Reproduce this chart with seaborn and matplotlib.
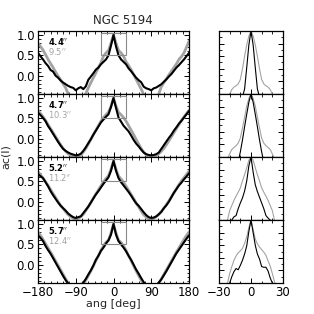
import numpy as np
import pandas as pd
import matplotlib
matplotlib.use("Agg")
import matplotlib.pyplot as plt
import seaborn as sns
from matplotlib.patches import Rectangle
from matplotlib.ticker import MultipleLocator

# angle grid of the left panels (deg) and of the zoomed right panels
ang = np.arange(-180, 181, 6)
ang_zoom = np.arange(-30, 31, 2)

# labels of the four rows: black / gray scale
labels_black = ["4.4", "4.7", "5.2", "5.7"]
labels_gray = ["9.5", "10.3", "11.2", "12.4"]

# --- left panels: ac(l) ----------------------------------------------------
ac_black_1 = [0.56, 0.48, 0.40, 0.31, 0.24, 0.14, 0.10, 0.00, -0.05, -0.12, -0.17, -0.21,
              -0.25, -0.28, -0.30, -0.36, -0.31, -0.28, -0.33, -0.26, -0.10, -0.02, 0.06,
              0.15, 0.20, 0.28, 0.34, 0.40, 0.50, 0.74, 1.00, 0.72, 0.50, 0.40, 0.34, 0.28,
              0.18, 0.11, 0.03, -0.05, -0.11, -0.16, -0.27, -0.31, -0.33, -0.36, -0.31,
              -0.29, -0.25, -0.21, -0.15, -0.09, -0.02, 0.04, 0.12, 0.20, 0.26, 0.33, 0.40,
              0.48, 0.56]
ac_gray_1 = [0.80, 0.72, 0.63, 0.52, 0.40, 0.30, 0.20, 0.09, -0.01, -0.10, -0.20, -0.30,
             -0.45, -0.55, -0.60, -0.62, -0.60, -0.57, -0.52, -0.44, -0.30, -0.17, -0.05,
             0.07, 0.20, 0.32, 0.48, 0.56, 0.62, 0.80, 1.00, 0.80, 0.62, 0.56, 0.48, 0.34,
             0.25, 0.15, 0.03, -0.09, -0.21, -0.33, -0.46, -0.56, -0.60, -0.62, -0.60,
             -0.55, -0.45, -0.27, -0.17, -0.08, 0.02, 0.11, 0.20, 0.29, 0.40, 0.47, 0.56,
             0.70, 0.85]
ac_black_2 = [0.64, 0.58, 0.51, 0.43, 0.31, 0.22, 0.12, 0.02, -0.08, -0.17, -0.25, -0.30,
              -0.34, -0.37, -0.39, -0.41, -0.40, -0.37, -0.30, -0.21, -0.11, -0.01, 0.10,
              0.20, 0.30, 0.40, 0.47, 0.54, 0.60, 0.78, 1.00, 0.76, 0.52, 0.42, 0.32, 0.25,
              0.18, 0.08, -0.03, -0.12, -0.19, -0.27, -0.34, -0.38, -0.40, -0.41, -0.40,
              -0.38, -0.34, -0.25, -0.16, -0.07, 0.02, 0.10, 0.20, 0.28, 0.37, 0.44, 0.52,
              0.60, 0.68]
ac_gray_2 = [0.70, 0.62, 0.54, 0.45, 0.35, 0.25, 0.15, 0.05, -0.05, -0.15, -0.24, -0.31,
             -0.37, -0.41, -0.44, -0.45, -0.44, -0.40, -0.33, -0.24, -0.13, -0.02, 0.10,
             0.21, 0.32, 0.43, 0.52, 0.59, 0.65, 0.80, 1.00, 0.80, 0.65, 0.59, 0.52, 0.43,
             0.32, 0.21, 0.10, -0.02, -0.13, -0.24, -0.33, -0.40, -0.44, -0.45, -0.44,
             -0.41, -0.37, -0.31, -0.24, -0.15, -0.05, 0.05, 0.15, 0.25, 0.35, 0.45, 0.54,
             0.62, 0.70]
ac_black_3 = [0.68, 0.63, 0.58, 0.48, 0.38, 0.26, 0.16, 0.07, -0.02, -0.10, -0.16, -0.22,
              -0.29, -0.34, -0.38, -0.40, -0.38, -0.36, -0.28, -0.20, -0.12, -0.02, 0.08,
              0.18, 0.26, 0.35, 0.44, 0.52, 0.60, 0.76, 1.00, 0.76, 0.58, 0.48, 0.40, 0.32,
              0.24, 0.15, 0.05, -0.04, -0.10, -0.18, -0.26, -0.33, -0.38, -0.40, -0.39,
              -0.36, -0.31, -0.25, -0.16, -0.09, 0.00, 0.11, 0.22, 0.31, 0.40, 0.47, 0.55,
              0.62, 0.70]
ac_gray_3 = [0.74, 0.66, 0.58, 0.49, 0.40, 0.30, 0.20, 0.10, 0.00, -0.09, -0.17, -0.25,
             -0.32, -0.37, -0.41, -0.43, -0.41, -0.37, -0.31, -0.22, -0.12, -0.02, 0.09,
             0.19, 0.29, 0.39, 0.49, 0.57, 0.64, 0.80, 1.00, 0.80, 0.63, 0.56, 0.48, 0.38,
             0.28, 0.18, 0.08, -0.03, -0.13, -0.23, -0.32, -0.38, -0.42, -0.43, -0.41,
             -0.37, -0.31, -0.24, -0.16, -0.07, 0.02, 0.12, 0.22, 0.32, 0.42, 0.51, 0.59,
             0.67, 0.75]
ac_black_4 = [0.72, 0.66, 0.58, 0.46, 0.36, 0.27, 0.16, 0.05, -0.06, -0.17, -0.28, -0.38,
              -0.46, -0.52, -0.55, -0.56, -0.54, -0.50, -0.44, -0.35, -0.24, -0.14, -0.02,
              0.12, 0.22, 0.34, 0.42, 0.52, 0.60, 0.74, 1.00, 0.74, 0.58, 0.50, 0.42, 0.33,
              0.22, 0.12, 0.00, -0.12, -0.22, -0.33, -0.43, -0.50, -0.54, -0.56, -0.55,
              -0.50, -0.44, -0.36, -0.26, -0.16, -0.05, 0.06, 0.17, 0.28, 0.37, 0.46, 0.55,
              0.64, 0.72]
ac_gray_4 = [0.80, 0.72, 0.62, 0.52, 0.41, 0.31, 0.20, 0.09, -0.02, -0.13, -0.24, -0.35,
             -0.46, -0.55, -0.60, -0.62, -0.60, -0.55, -0.48, -0.38, -0.27, -0.15, -0.03,
             0.10, 0.22, 0.35, 0.46, 0.55, 0.60, 0.78, 1.00, 0.78, 0.60, 0.55, 0.46, 0.35,
             0.22, 0.10, -0.03, -0.15, -0.27, -0.38, -0.48, -0.55, -0.60, -0.62, -0.60,
             -0.55, -0.46, -0.35, -0.24, -0.13, -0.02, 0.09, 0.20, 0.31, 0.41, 0.52, 0.62,
             0.72, 0.80]

# --- right panels: central peak, -30..30 deg ------------------------------
pk_black_1 = [-0.3, -0.3, -0.3, -0.3, -0.3, -0.3, -0.3, -0.3, -0.3, -0.3, -0.2, -0.05,
              0.08, 0.42, 0.78, 1.00, 0.78, 0.42, 0.08, -0.05, -0.2, -0.3, -0.3, -0.3,
              -0.3, -0.3, -0.3, -0.3, -0.3, -0.3, -0.3]
pk_gray_1 = [-0.30, -0.25, -0.20, -0.12, -0.06, 0.00, 0.07, 0.11, 0.13, 0.16, 0.23, 0.40,
             0.60, 0.78, 0.92, 1.00, 0.92, 0.78, 0.60, 0.40, 0.23, 0.16, 0.13, 0.11, 0.07,
             0.00, -0.06, -0.12, -0.20, -0.25, -0.30]
pk_black_2 = [-0.4, -0.4, -0.4, -0.4, -0.4, -0.4, -0.4, -0.4, -0.25, -0.08, 0.08, 0.27,
              0.48, 0.68, 0.87, 1.00, 0.87, 0.68, 0.48, 0.27, 0.08, -0.08, -0.25, -0.4,
              -0.4, -0.4, -0.4, -0.4, -0.4, -0.4, -0.4]
pk_gray_2 = [-0.30, -0.24, -0.17, -0.10, -0.03, 0.05, 0.12, 0.15, 0.18, 0.22, 0.30, 0.46,
             0.63, 0.81, 0.93, 1.00, 0.93, 0.81, 0.63, 0.46, 0.30, 0.22, 0.18, 0.15, 0.12,
             0.05, -0.03, -0.10, -0.17, -0.24, -0.30]
pk_black_3 = [-0.4, -0.4, -0.4, -0.3, -0.2, -0.1, 0.00, 0.05, 0.07, 0.18, 0.27, 0.35,
              0.46, 0.62, 0.86, 1.00, 0.76, 0.56, 0.45, 0.36, 0.27, 0.18, 0.07, 0.03,
              0.00, -0.10, -0.2, -0.3, -0.4, -0.4, -0.4]
pk_gray_3 = [-0.40, -0.30, -0.20, -0.08, 0.00, 0.15, 0.23, 0.31, 0.38, 0.44, 0.51, 0.62,
             0.72, 0.83, 0.95, 1.00, 0.95, 0.83, 0.72, 0.62, 0.51, 0.44, 0.38, 0.31, 0.23,
             0.15, 0.00, -0.08, -0.20, -0.30, -0.40]
pk_black_4 = [-0.4, -0.4, -0.4, -0.3, -0.15, 0.00, 0.10, 0.18, 0.23, 0.21, 0.28, 0.36,
              0.46, 0.59, 0.82, 1.00, 0.80, 0.60, 0.46, 0.38, 0.26, 0.25, 0.25, 0.19,
              0.08, 0.00, -0.15, -0.3, -0.4, -0.4, -0.4]
pk_gray_4 = [-0.40, -0.30, -0.20, -0.08, 0.00, 0.15, 0.26, 0.36, 0.43, 0.48, 0.51, 0.55,
             0.63, 0.73, 0.88, 1.00, 0.85, 0.70, 0.62, 0.57, 0.53, 0.49, 0.44, 0.35, 0.27,
             0.15, 0.02, -0.10, -0.20, -0.30, -0.40]

ac_black = [ac_black_1, ac_black_2, ac_black_3, ac_black_4]
ac_gray = [ac_gray_1, ac_gray_2, ac_gray_3, ac_gray_4]
pk_black = [pk_black_1, pk_black_2, pk_black_3, pk_black_4]
pk_gray = [pk_gray_1, pk_gray_2, pk_gray_3, pk_gray_4]

# zoom box drawn on the left panels
box_x = (-30, 30)
box_y = (0.5, 1.05)

GRAY = "#a3a3a3"
BOX = "#8a8a8a"

sns.set_style("ticks")
plt.rcParams["font.family"] = ["DejaVu Sans"]
plt.rcParams.update({
    "xtick.direction": "in", "ytick.direction": "in",
    "xtick.top": True, "ytick.right": True,
    "xtick.major.size": 3.5, "ytick.major.size": 3.5,
    "xtick.minor.size": 1.8, "ytick.minor.size": 1.8,
    "xtick.major.width": 0.7, "ytick.major.width": 0.7,
    "xtick.minor.width": 0.6, "ytick.minor.width": 0.6,
    "xtick.major.pad": 2.5, "ytick.major.pad": 2.0,
    "axes.linewidth": 0.9, "axes.edgecolor": "black",
    "xtick.color": "black", "ytick.color": "black",
})

W = 314.0
fig = plt.figure(figsize=(3.14, 3.14), dpi=100)

top_px = 31
h_px = 63
for i in range(4):
    y0 = 1 - (top_px + (i + 1) * h_px) / W
    axl = fig.add_axes([38 / W, y0, 151 / W, h_px / W])
    axr = fig.add_axes([219 / W, y0, 64 / W, h_px / W])

    df = pd.DataFrame({"ang": ang, "black": ac_black[i], "gray": ac_gray[i]})
    sns.lineplot(data=df, x="ang", y="gray", ax=axl, color=GRAY, lw=2.0)
    sns.lineplot(data=df, x="ang", y="black", ax=axl, color="black", lw=1.5)
    axl.add_patch(Rectangle((box_x[0], box_y[0]), box_x[1] - box_x[0], box_y[1] - box_y[0],
                            fill=False, ec=BOX, lw=0.8, zorder=5))
    axl.set_xlim(-180, 180)
    axl.set_ylim(-0.45, 1.1)
    axl.xaxis.set_major_locator(MultipleLocator(90))
    axl.xaxis.set_minor_locator(MultipleLocator(15))
    axl.yaxis.set_major_locator(MultipleLocator(0.5))
    axl.yaxis.set_minor_locator(MultipleLocator(0.1))
    axl.set_yticks([0.0, 0.5, 1.0])
    axl.set_yticklabels(["0.0", "0.5", "1.0"], fontsize=8.5)
    axl.set_xlabel("")
    axl.set_ylabel("")
    axl.text(0.065, 0.83, labels_black[i] + r"$^{\prime\prime}$", transform=axl.transAxes,
             fontsize=6, fontweight="bold", color="black", va="center")
    axl.text(0.065, 0.68, labels_gray[i] + r"$^{\prime\prime}$", transform=axl.transAxes,
             fontsize=6, color=GRAY, va="center")

    dz = pd.DataFrame({"ang": ang_zoom, "black": pk_black[i], "gray": pk_gray[i]})
    sns.lineplot(data=dz, x="ang", y="gray", ax=axr, color=GRAY, lw=0.8)
    sns.lineplot(data=dz, x="ang", y="black", ax=axr, color="black", lw=0.8)
    axr.set_xlim(-30, 30)
    axr.set_ylim(0, 1.0)
    axr.xaxis.set_major_locator(MultipleLocator(30))
    axr.xaxis.set_minor_locator(MultipleLocator(10))
    axr.yaxis.set_major_locator(MultipleLocator(0.2))
    axr.yaxis.set_minor_locator(MultipleLocator(0.1))
    axr.set_yticklabels([])
    axr.set_xlabel("")
    axr.set_ylabel("")

    if i < 3:
        axl.set_xticklabels([])
        axr.set_xticklabels([])
    else:
        axl.set_xticks([-180, -90, 0, 90, 180])
        axl.set_xticklabels(["\u2212180", "\u221290", "0", "90", "180"], fontsize=8.5)
        axr.set_xticks([-30, 0, 30])
        axr.set_xticklabels(["\u221230", "0", "30"], fontsize=8.5)
        axl.set_xlabel("ang [deg]", fontsize=8, labelpad=0)

fig.text(123 / W, 1 - 20 / W, "NGC 5194", ha="center", va="center", fontsize=8.5)
fig.text(6 / W, 1 - 157 / W, "ac(l)", ha="center", va="center", rotation=90, fontsize=8)

fig.savefig("out.png", dpi=100)
